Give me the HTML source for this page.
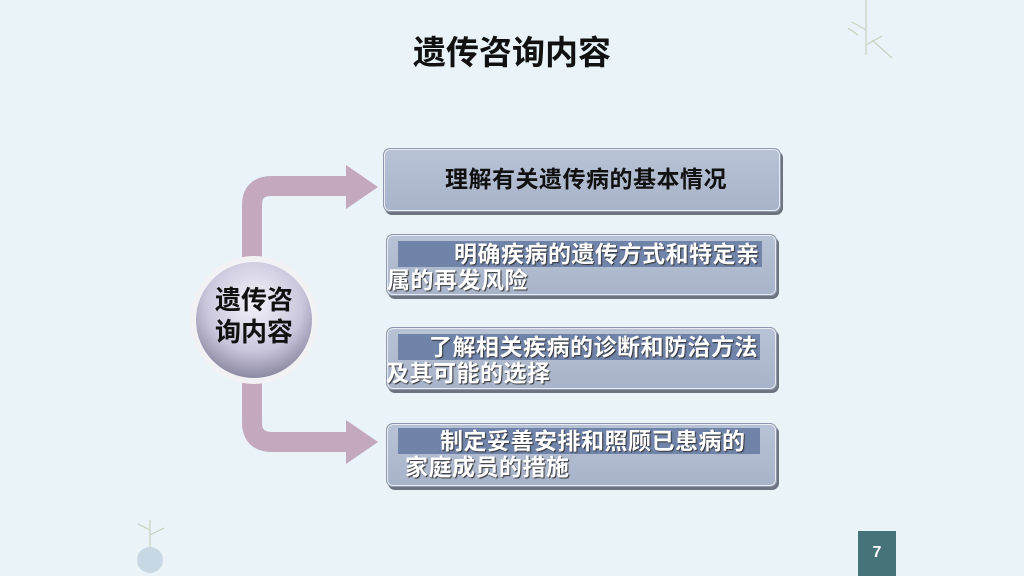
<!DOCTYPE html>
<html><head><meta charset="utf-8"><style>
body{margin:0;width:1024px;height:576px;background:#e9f3f8;position:relative;overflow:hidden;font-family:"Liberation Sans","Noto Sans CJK SC",sans-serif}
.a{position:absolute}
.title{left:0;width:1024px;top:26px;text-align:center;font-size:33px;font-weight:bold;color:#111}
.box{position:absolute;border-radius:7px;background:linear-gradient(#b9c3d6,#a7b3c9);box-shadow:2px 3px 0 #6c7480,0 0 0 1px #e8ecf2 inset;border:1px solid #8e99ad}
.ln{position:absolute;font-size:23px;letter-spacing:0.5px;font-weight:bold;color:#fff;text-shadow:1px 1px 1px #333;white-space:nowrap;line-height:26px}
.hl{background:#7083a9}
</style></head><body>
<div class="a title">遗传咨询内容</div>
<svg class="a" style="left:0;top:0" width="1024" height="576">
<path d="M252 262 V205 Q252 186 272 186 H348" fill="none" stroke="#c4a8bc" stroke-width="20"/>
<polygon points="346,165 378,187 346,209" fill="#c4a8bc"/>
<path d="M252 380 V422 Q252 442 272 442 H348" fill="none" stroke="#c4a8bc" stroke-width="20"/>
<polygon points="346,420 378,442 346,464" fill="#c4a8bc"/>
<defs><radialGradient id="g" cx="0.5" cy="0.35" r="0.7"><stop offset="0" stop-color="#f4f3fa"/><stop offset="0.6" stop-color="#c9c6dc"/><stop offset="1" stop-color="#7e7b95"/></radialGradient></defs>
<circle cx="254" cy="320" r="64" fill="#f2f2f4"/>
<circle cx="254" cy="320" r="58" fill="url(#g)"/>
<g stroke="#c8d2c0" stroke-width="1.2" fill="none"><path d="M866 0 V55 M866 30 L852 22 M866 45 L882 36 M872 40 L892 58 M858 35 L848 28"/>
<path d="M150 520 V548 M150 530 L138 524 M150 535 L164 528"/></g>
<circle cx="150" cy="560" r="13" fill="#c7d8e4"/>
</svg>
<div class="a" style="left:192px;top:284px;width:124px;text-align:center;font-size:26px;font-weight:bold;line-height:32px;color:#111">遗传咨<br>询内容</div>
<div class="box" style="left:383px;top:148px;width:396px;height:62px"></div>
<div class="ln" style="left:445px;top:166px;color:#111;text-shadow:none">理解有关遗传病的基本情况</div>
<div class="box" style="left:386px;top:234px;width:389px;height:60px"></div>
<div class="ln" style="left:398px;top:241px"><span class="hl" style="padding-left:56px;padding-right:2px">明确疾病的遗传方式和特定亲</span></div>
<div class="ln" style="left:387px;top:267px">属的再发风险</div>
<div class="box" style="left:386px;top:327px;width:389px;height:61px"></div>
<div class="ln" style="left:398px;top:334px"><span class="hl" style="padding-left:31px;padding-right:2px">了解相关疾病的诊断和防治方法</span></div>
<div class="ln" style="left:386px;top:360px">及其可能的选择</div>
<div class="box" style="left:386px;top:423px;width:389px;height:62px"></div>
<div class="ln" style="left:398px;top:428px"><span class="hl" style="padding-left:42px;padding-right:14px">制定妥善安排和照顾已患病的</span></div>
<div class="ln" style="left:405px;top:454px">家庭成员的措施</div>
<div class="a" style="left:858px;top:531px;width:38px;height:45px;background:#46727a;color:#fff;font-weight:bold;font-size:16px;text-align:center;line-height:44px">7</div>
</body></html>
